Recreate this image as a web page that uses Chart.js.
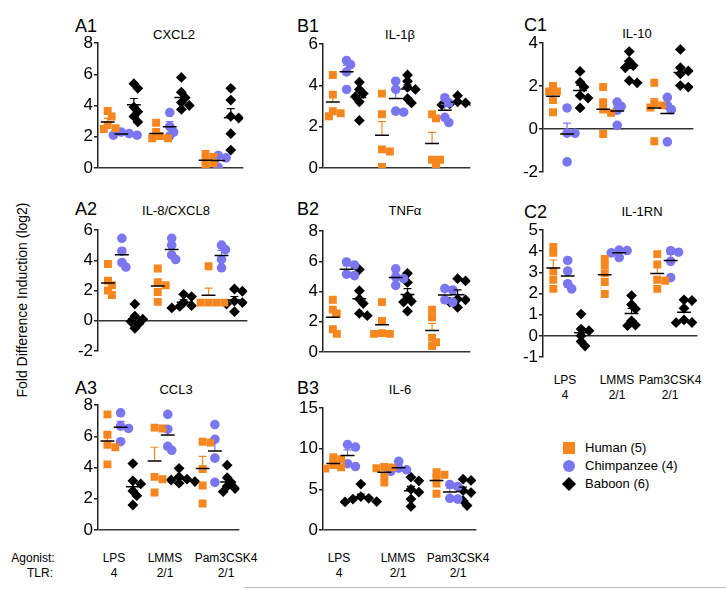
<!DOCTYPE html>
<html>
<head>
<meta charset="utf-8">
<script src="https://cdn.jsdelivr.net/npm/chart.js@4"></script>
<style>
  body { margin: 0; background: #fff; width: 726px; height: 589px; position: relative; overflow: hidden;
         font-family: "Liberation Sans", Arial, sans-serif; color: #000; }
  .box { position: absolute; }
  .lab { position: absolute; font-size: 18px; line-height: 1; }
  .ttl { position: absolute; font-size: 13px; line-height: 1; transform: translateX(-50%); white-space: nowrap; }
  .bot { position: absolute; font-family: "Liberation Sans Narrow", "Liberation Sans", Arial, sans-serif;
         font-size: 12px; line-height: 1; transform: translateX(-50%); white-space: nowrap; }
  .yt { position: absolute; left: 22px; top: 300px; font-size: 14px; white-space: nowrap;
        transform: translate(-50%, -50%) rotate(-90deg); }
  .leg { position: absolute; font-size: 13px; line-height: 1; white-space: nowrap; }
</style>
</head>
<body>
<div class="yt">Fold Difference Induction (log2)</div>
<script>
// categories
var agonists = ['LPS', 'LMMS', 'Pam3CSK4'];
var tlrs = ['4', '2/1', '2/1'];
var species = ['Human (5)', 'Chimpanzee (4)', 'Baboon (6)'];

// values per agonist (LPS, LMMS, Pam3CSK4), log2 fold induction
var cxcl2Human  = [[3.65, 3.3, 2.75, 2.55, 2.5], [2.9, 2.3, 2.05, 1.9, 1.9], [0.9, 0.7, 0.5, 0.3, 0.1]];
var cxcl2Chimp  = [[2.3, 2.2, 2.1, 2.1], [3.55, 2.65, 2.3, 2.05], [0.8, 0.65, 0.45, 0.05]];
var cxcl2Baboon = [[5.4, 5.1, 3.9, 3.6, 3.3, 2.95], [5.8, 4.85, 4.5, 4.2, 4.0, 3.75], [5.1, 4.35, 3.3, 3.2, 2.2, 1.15]];

var il8Human  = [[3.75, 2.65, 2.35, 2.0, 1.7], [3.45, 2.55, 2.35, 1.9, 1.25], [3.6, 1.2, 1.2, 1.2, 1.2]];
var il8Chimp  = [[5.45, 4.6, 3.85, 3.55], [5.45, 5.0, 4.35, 4.05], [5.0, 4.7, 4.05, 3.5]];
var il8Baboon = [[1.1, 0.3, 0.1, -0.05, -0.2, -0.5], [1.75, 1.6, 1.2, 1.0, 0.95, 0.85], [2.1, 1.95, 1.3, 1.2, 1.1, 0.6]];

var ccl3Human  = [[7.4, 6.1, 5.45, 5.3, 4.2], [6.55, 6.5, 3.4, 3.25, 2.4], [5.65, 5.6, 3.9, 2.85, 1.7]];
var ccl3Chimp  = [[7.5, 6.65, 6.5, 5.65], [7.4, 6.45, 5.35, 5.1], [6.75, 5.8, 4.6, 3.05]];
var ccl3Baboon = [[4.25, 3.15, 2.95, 2.5, 2.2, 1.6], [3.95, 3.4, 3.25, 3.2, 3.1, 3.0], [4.15, 3.35, 3.05, 2.8, 2.65, 2.45]];

var il1bHuman  = [[4.5, 3.55, 2.75, 2.65, 2.5], [3.6, 2.6, 0.9, 0.8, 0.05], [2.6, 2.4, 0.4, 0.4, 0.15]];
var il1bChimp  = [[5.2, 5.0, 4.65, 3.8], [4.2, 3.8, 2.75, 2.7], [3.4, 3.15, 2.45, 2.2]];
var il1bBaboon = [[4.15, 3.8, 3.6, 3.45, 3.2, 2.3], [4.5, 4.2, 3.9, 3.8, 3.35, 3.15], [3.5, 3.2, 3.15, 3.1, 3.1, 3.05]];

var tnfHuman  = [[3.45, 2.8, 2.55, 1.5, 1.2], [3.3, 2.05, 1.25, 1.2, 1.2], [2.8, 2.3, 0.95, 0.65, 0.4]];
var tnfChimp  = [[5.95, 5.75, 5.15, 5.05], [5.5, 4.95, 4.85, 4.4], [4.2, 4.1, 3.45, 3.3]];
var tnfBaboon = [[5.45, 4.05, 3.5, 3.2, 2.55, 2.4], [5.2, 4.6, 3.7, 3.35, 3.3, 2.7], [4.85, 4.7, 3.5, 3.45, 3.3, 2.95]];

var il6Human  = [[8.95, 8.7, 8.0, 7.7, 7.55], [7.75, 7.7, 7.6, 6.65, 5.85], [7.1, 6.8, 6.4, 5.7, 4.45]];
var il6Chimp  = [[10.5, 10.2, 8.15, 7.8], [8.45, 7.6, 7.4, 7.2], [5.6, 5.35, 3.9, 3.8]];
var il6Baboon = [[5.65, 4.1, 3.9, 3.8, 3.5, 3.45], [6.5, 6.05, 5.0, 4.65, 3.8, 2.9], [6.25, 6.1, 4.85, 4.6, 3.6, 3.0]];

var il10Human  = [[2.0, 1.75, 1.75, 1.35, 0.78], [1.95, 1.25, 0.9, 0.75, -0.23], [2.15, 1.2, 1.1, 1.0, -0.57]];
var il10Chimp  = [[0.98, -0.19, -0.2, -1.53], [1.25, 1.05, 0.87, 0.17], [1.47, 1.1, 0.9, -0.6]];
var il10Baboon = [[2.68, 2.17, 1.95, 1.55, 1.44, 0.98], [3.6, 3.15, 2.95, 2.85, 2.25, 2.15], [3.7, 2.85, 2.7, 2.57, 2.02, 1.95]];

var il1rnHuman  = [[4.2, 3.92, 3.05, 2.65, 2.22], [3.63, 3.33, 2.95, 2.54, 1.98], [3.86, 3.37, 2.65, 2.6, 2.22]];
var il1rnChimp  = [[3.56, 3.06, 2.46, 2.22], [4.05, 4.03, 3.92, 3.7], [4.02, 3.95, 3.52, 2.75]];
var il1rnBaboon = [[1.03, 0.32, 0.24, 0.0, -0.27, -0.48], [1.9, 1.48, 1.27, 0.71, 0.51, 0.48], [1.7, 1.67, 1.3, 0.75, 0.63, 0.62]];

// y tick labels
var ticksCxcl2 = [0, 2, 4, 6, 8];
var ticksIl8 = [-2, 0, 2, 4, 6];
var ticksCcl3 = [0, 2, 4, 6, 8];
var ticksIl1b = [0, 2, 4, 6];
var ticksTnf = [0, 2, 4, 6, 8];
var ticksIl6 = [0, 5, 10, 15];
var ticksIl10 = [-2, 0, 2, 4];
var ticksIl1rn = [-1, 0, 1, 2, 3, 4, 5];

// styling
var colors = ['#F7861E', '#7A76F0', '#000000'];
var pointStyles = ['rect', 'circle', 'rectRot'];
var pointRadii = [5.6, 4.8, 5.4];
var groupX = [[1.0, 2.4, 3.7], [6.0, 7.4, 8.6], [11.1, 12.4, 13.7]];

var panels = [
  { id: 'A1', gene: 'CXCL2',      sets: [cxcl2Human, cxcl2Chimp, cxcl2Baboon], ticks: ticksCxcl2, box: [98, 245, 43, 168],  lab: [75, 26],  ttl: [174, 34] },
  { id: 'A2', gene: 'IL-8/CXCL8', sets: [il8Human, il8Chimp, il8Baboon],       ticks: ticksIl8,   box: [98, 249, 230, 351], lab: [75, 209], ttl: [176, 210] },
  { id: 'A3', gene: 'CCL3',       sets: [ccl3Human, ccl3Chimp, ccl3Baboon],    ticks: ticksCcl3,  box: [98, 241, 405, 530], lab: [75, 388], ttl: [176, 389] },
  { id: 'B1', gene: 'IL-1\u03b2', sets: [il1bHuman, il1bChimp, il1bBaboon],    ticks: ticksIl1b,  box: [323, 472, 44, 168], lab: [297, 26], ttl: [400, 34] },
  { id: 'B2', gene: 'TNF\u03b1',  sets: [tnfHuman, tnfChimp, tnfBaboon],       ticks: ticksTnf,   box: [323, 472, 231, 352], lab: [297, 209], ttl: [405, 210] },
  { id: 'B3', gene: 'IL-6',       sets: [il6Human, il6Chimp, il6Baboon],       ticks: ticksIl6,   box: [323, 478, 408, 530], lab: [297, 388], ttl: [400, 389] },
  { id: 'C1', gene: 'IL-10',      sets: [il10Human, il10Chimp, il10Baboon],    ticks: ticksIl10,  box: [543, 695, 43, 172],  lab: [524, 25], ttl: [637, 33] },
  { id: 'C2', gene: 'IL-1RN',     sets: [il1rnHuman, il1rnChimp, il1rnBaboon], ticks: ticksIl1rn, box: [543, 699, 230, 357], lab: [524, 212], ttl: [642, 211] }
];

function mean(a) { return a.reduce(function (s, v) { return s + v; }, 0) / a.length; }
function sem(a) {
  var m = mean(a);
  var ss = a.reduce(function (s, v) { return s + (v - m) * (v - m); }, 0);
  return Math.sqrt(ss / (a.length - 1)) / Math.sqrt(a.length);
}

// small beeswarm: points with close values are nudged sideways a few pixels
function swarm(vals, cx, pxX, pxY) {
  var placed = [], step = 4, gap = 5.5;
  return vals.map(function (v) {
    var yp = v * pxY, xp = 0;
    for (var k = 0; k < 9; k++) {
      var n = Math.ceil(k / 2);
      xp = (k % 2 ? 1 : -1) * n * step;
      var hit = placed.some(function (q) { return Math.hypot(q.x - xp, q.y - yp) < gap; });
      if (!hit) break;
    }
    placed.push({ x: xp, y: yp });
    return { x: cx + xp / pxX, y: v };
  });
}

function addText(cls, txt, x, y) {
  var d = document.createElement('div');
  d.className = cls;
  d.textContent = txt;
  d.style.left = x + 'px';
  d.style.top = y + 'px';
  document.body.appendChild(d);
  return d;
}

var W = 32, PT = 12, PB = 12, PR = 4;

function makePanel(p) {
  var left = p.box[0], right = p.box[1], top = p.box[2], bottom = p.box[3];
  var yMin = p.ticks[0], yMax = p.ticks[p.ticks.length - 1];
  var pxX = (right - left) / 15, pxY = (bottom - top) / (yMax - yMin);

  addText('lab', p.id, p.lab[0], p.lab[1] - 9);
  addText('ttl', p.gene, p.ttl[0], p.ttl[1] - 6.5);

  var div = document.createElement('div');
  div.className = 'box';
  div.style.left = (left - W) + 'px';
  div.style.top = (top - PT) + 'px';
  div.style.width = (right - left + W + PR) + 'px';
  div.style.height = (bottom - top + PT + PB) + 'px';
  var cv = document.createElement('canvas');
  div.appendChild(cv);
  document.body.appendChild(div);

  var datasets = [];
  p.sets.forEach(function (set, s) {
    var pts = [];
    set.forEach(function (vals, a) {
      var cx = groupX[a][s];
      pts = pts.concat(swarm(vals, cx, pxX, pxY));
      var m = mean(vals), e = sem(vals);
      var hw = 7 / pxX, cw = 4 / pxX;
      datasets.push({
        data: [{ x: cx, y: m }, { x: cx, y: m + e }, { x: cx - cw, y: m + e }, { x: cx + cw, y: m + e }],
        showLine: true, borderColor: colors[s], borderWidth: 1.2, pointRadius: 0, order: 1
      });
      datasets.push({
        data: [{ x: cx - hw, y: m }, { x: cx + hw, y: m }],
        showLine: true, borderColor: '#000', borderWidth: 1.5, pointRadius: 0, order: 0
      });
    });
    datasets.push({
      label: species[s], data: pts, pointStyle: pointStyles[s], pointRadius: pointRadii[s],
      backgroundColor: colors[s], borderColor: colors[s], borderWidth: 0, order: 2
    });
  });

  new Chart(cv, {
    type: 'scatter',
    data: { datasets: datasets },
    options: {
      responsive: true, maintainAspectRatio: false, animation: false, devicePixelRatio: 1,
      layout: { padding: { top: PT, bottom: PB, right: PR, left: 0 } },
      plugins: { legend: { display: false }, tooltip: { enabled: false } },
      scales: {
        x: { type: 'linear', min: 0, max: 15, display: false },
        y: {
          type: 'linear', min: yMin, max: yMax,
          afterBuildTicks: function (sc) { sc.ticks = p.ticks.map(function (v) { return { value: v }; }); },
          afterFit: function (sc) { sc.width = W; },
          border: { display: true, color: '#222', width: 1.5 },
          grid: {
            color: function (c) { return c.tick && c.tick.value === 0 ? '#333' : 'rgba(0,0,0,0)'; },
            lineWidth: 1.5, tickColor: '#222', tickLength: 4, drawTicks: true
          },
          ticks: { color: '#000', padding: 1, autoSkip: false, font: { family: 'Liberation Sans', size: 17 } }
        }
      }
    }
  });
}

panels.forEach(makePanel);

// agonist / TLR labels
addText('bot', 'Agonist:', 33, 552);
addText('bot', 'TLR:', 40, 567);
[[114, 165, 226], [339, 398, 458], [565, 617, 670]].forEach(function (xs, row) {
  var y1 = row < 2 ? 552 : 374, y2 = row < 2 ? 567 : 389;
  xs.forEach(function (x, i) {
    addText('bot', agonists[i], x, y1);
    addText('bot', tlrs[i], x, y2);
  });
});

// legend
var legY = [448, 466, 484];
species.forEach(function (name, i) {
  var m = document.createElement('div');
  m.style.position = 'absolute';
  m.style.background = colors[i];
  if (i === 0) { m.style.left = '563px'; m.style.top = (legY[i] - 6) + 'px'; m.style.width = '12px'; m.style.height = '12px'; }
  if (i === 1) { m.style.left = '563px'; m.style.top = (legY[i] - 6) + 'px'; m.style.width = '12px'; m.style.height = '12px'; m.style.borderRadius = '50%'; }
  if (i === 2) { m.style.left = '564px'; m.style.top = (legY[i] - 5) + 'px'; m.style.width = '10px'; m.style.height = '10px'; m.style.transform = 'rotate(45deg)'; }
  document.body.appendChild(m);
  addText('leg', name, 585, legY[i] - 7);
});

var gl = document.createElement('div');
gl.style.cssText = 'position:absolute;left:244px;top:587px;width:482px;height:1px;background:#bbb;';
document.body.appendChild(gl);
</script>
</body>
</html>
